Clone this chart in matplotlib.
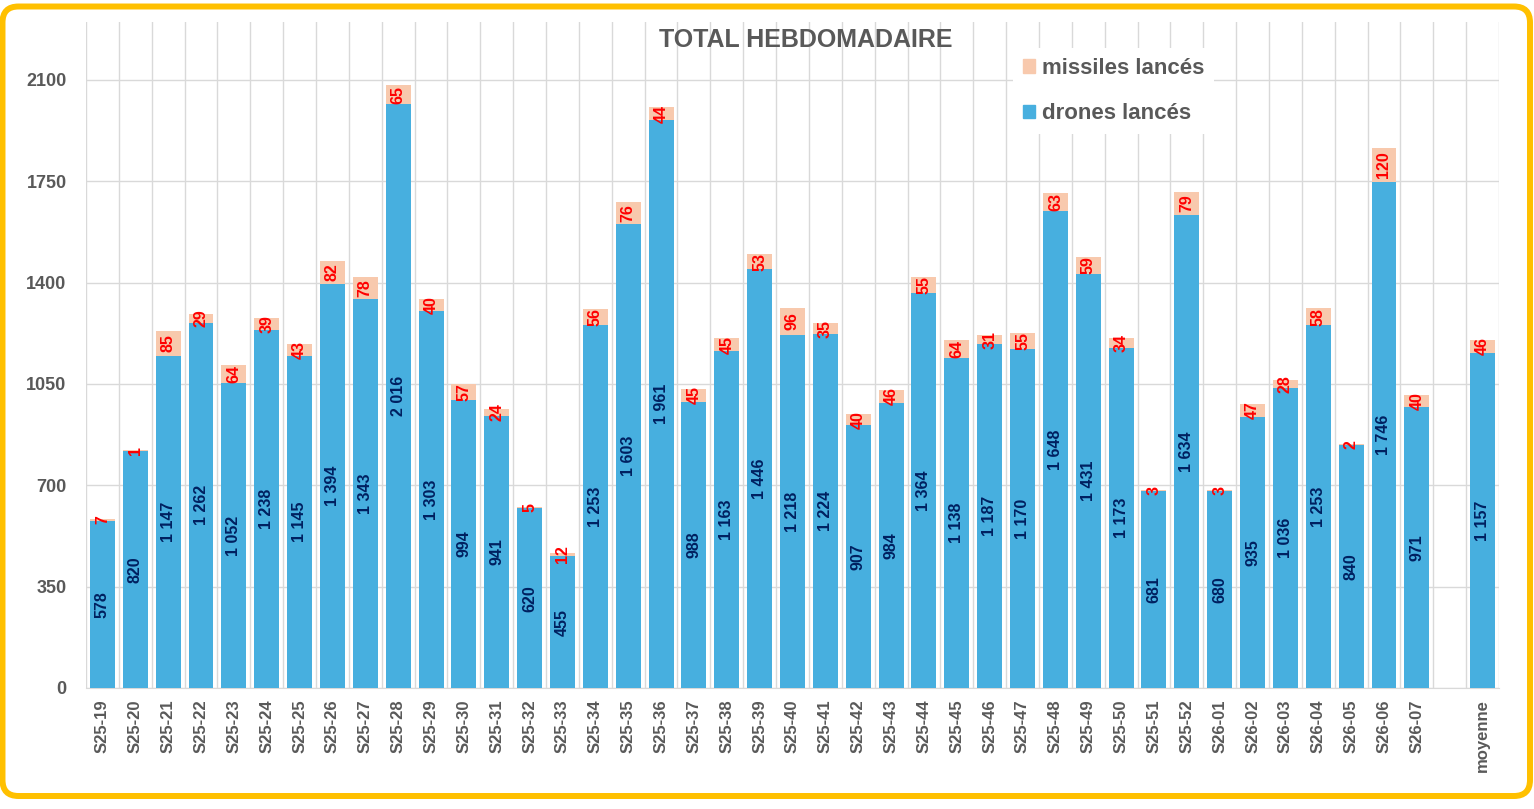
import matplotlib.pyplot as plt
from matplotlib.patches import FancyBboxPatch, Patch
import numpy as np

plt.rcParams['font.family'] = ['Liberation Sans', 'DejaVu Sans']

# weeks, then an empty slot, then the average
semaines = ['S25-19', 'S25-20', 'S25-21', 'S25-22', 'S25-23', 'S25-24', 'S25-25',
            'S25-26', 'S25-27', 'S25-28', 'S25-29', 'S25-30', 'S25-31', 'S25-32',
            'S25-33', 'S25-34', 'S25-35', 'S25-36', 'S25-37', 'S25-38', 'S25-39',
            'S25-40', 'S25-41', 'S25-42', 'S25-43', 'S25-44', 'S25-45', 'S25-46',
            'S25-47', 'S25-48', 'S25-49', 'S25-50', 'S25-51', 'S25-52', 'S26-01',
            'S26-02', 'S26-03', 'S26-04', 'S26-05', 'S26-06', 'S26-07', '', 'moyenne']

drones = [578, 820, 1147, 1262, 1052, 1238, 1145, 1394, 1343, 2016, 1303, 994, 941,
          620, 455, 1253, 1603, 1961, 988, 1163, 1446, 1218, 1224, 907, 984, 1364,
          1138, 1187, 1170, 1648, 1431, 1173, 681, 1634, 680, 935, 1036, 1253, 840,
          1746, 971, None, 1157]

missiles = [7, 1, 85, 29, 64, 39, 43, 82, 78, 65, 40, 57, 24, 5, 12, 56, 76, 44, 45,
            45, 53, 96, 35, 40, 46, 55, 64, 31, 55, 63, 59, 34, 3, 79, 3, 47, 28, 58,
            2, 120, 40, None, 46]

y_ticks = [0, 350, 700, 1050, 1400, 1750, 2100]

BLEU = '#47AFDF'
PECHE = '#F8C9AD'
GRIS = '#595959'

W, H = 1534, 809
fig = plt.figure(figsize=(W / 100, H / 100), dpi=100)

# rounded gold frame
bg = fig.add_axes([0, 0, 1, 1])
bg.set_xlim(0, W)
bg.set_ylim(H, 0)
bg.axis('off')
bg.add_patch(FancyBboxPatch((2.5, 6.5), 1527.5, 789.5,
                            boxstyle='round,pad=0,rounding_size=16',
                            fc='white', ec='#FFC000', lw=4.3))

ax = fig.add_axes([86 / W, 1 - 688 / H, (1499 - 86) / W, (688 - 22) / H])
ax.set_facecolor('none')

x = np.arange(len(semaines))
d = np.array([v if v is not None else 0 for v in drones], dtype=float)
m = np.array([v if v is not None else 0 for v in missiles], dtype=float)

ax.bar(x, d, width=0.76, color=BLEU, zorder=3)
ax.bar(x, m, width=0.76, bottom=d, color=PECHE, zorder=3)


def fmt(v):
    return f'{v:,}'.replace(',', ' ')


for i in range(len(semaines)):
    if drones[i] is None:
        continue
    ax.text(x[i], d[i] / 2, fmt(drones[i]), rotation=90, ha='center', va='center',
            color='#002060', fontsize=11.5, fontweight='bold', zorder=5)
    ax.text(x[i], d[i] + m[i] / 2, fmt(missiles[i]), rotation=90, ha='center',
            va='center', color='#FF0000', fontsize=11.5, fontweight='bold', zorder=5)

ax.set_xlim(-0.5, len(semaines) - 0.5)
ax.set_ylim(0, 2300)
ax.set_yticks(y_ticks)
ax.set_yticklabels([str(t) for t in y_ticks])
ax.set_xticks(x)
ax.set_xticklabels(semaines, rotation=90)
ax.set_xticks(np.arange(-0.5, len(semaines)), minor=True)

ax.grid(axis='y', which='major', color='#D9D9D9', lw=1, zorder=0)
ax.grid(axis='x', which='minor', color='#D9D9D9', lw=1, zorder=0)
ax.grid(axis='x', which='major', visible=False)

for s in ['top', 'right', 'left']:
    ax.spines[s].set_visible(False)
ax.spines['bottom'].set_color('#D9D9D9')

ax.tick_params(axis='both', which='both', length=0)
ax.tick_params(axis='y', pad=14, labelsize=13, labelcolor=GRIS)
ax.tick_params(axis='x', pad=8, labelsize=12, labelcolor=GRIS)
for lab in ax.get_xticklabels() + ax.get_yticklabels():
    lab.set_fontweight('bold')

fig.text(806 / W, 1 - 40 / H, 'TOTAL HEBDOMADAIRE', ha='center', va='center',
         fontsize=18, fontweight='bold', color=GRIS)

handles = [Patch(color=PECHE, label='missiles lancés'),
           Patch(color=BLEU, label='drones lancés')]
leg = fig.legend(handles=handles, loc='upper left', bbox_to_anchor=(1013 / W, 1 - 48 / H),
                 borderaxespad=0, frameon=True, facecolor='white', edgecolor='none',
                 framealpha=1, fancybox=False, handlelength=0.55, handleheight=0.55,
                 handletextpad=0.3, labelspacing=1.1, borderpad=0.45,
                 prop={'size': 16, 'weight': 'bold'})
for t in leg.get_texts():
    t.set_color(GRIS)

fig.savefig('out.png', dpi=100)
